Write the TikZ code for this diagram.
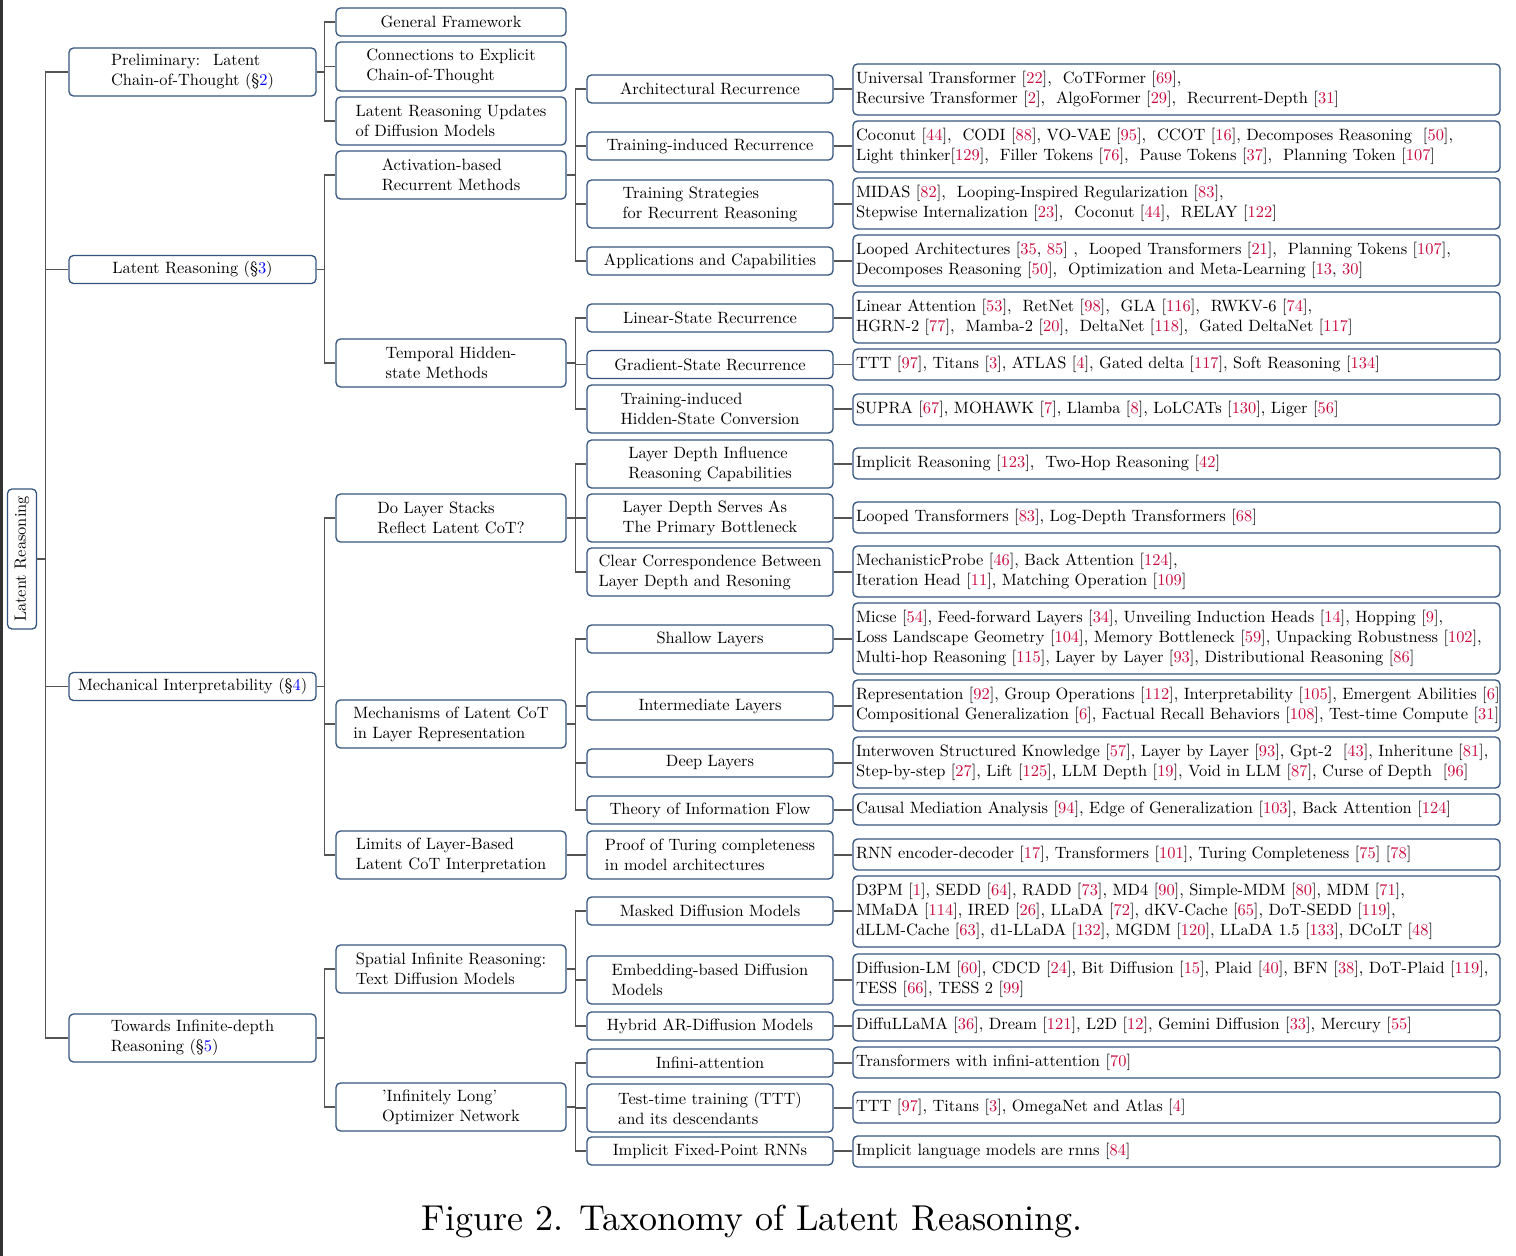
\documentclass[tikz,border=0pt]{standalone}
\usepackage{fontspec}
\setmainfont{lmroman10-regular.otf}
\definecolor{boxline}{HTML}{34557F}
\definecolor{wirecol}{HTML}{545454}
\definecolor{citered}{HTML}{C8093C}
\definecolor{secblue}{HTML}{0000FF}
\newcommand{\ct}[1]{[\textcolor{citered}{#1}]}
\newcommand{\sr}[1]{\S\textcolor{secblue}{#1}}
\begin{document}
\begin{tikzpicture}[x=1pt,y=-1pt,
  base/.style={draw=boxline, line width=1.3pt, rounded corners=4.5pt, fill=white,
    inner sep=0pt, align=left, font=\fontsize{16.4}{20}\selectfont},
  lone/.style={base, minimum width=247pt},
  ltwo/.style={base, minimum width=230pt},
  lthree/.style={base, minimum width=246pt},
  lfour/.style={base, text width=641pt, inner xsep=3pt},
  wire/.style={draw=wirecol, line width=1.2pt}]
\fill[white] (0,0) rectangle (1516,1256);
\useasboundingbox (0,0) rectangle (1516,1256);
\fill[black!80] (0,0) rectangle (2.5,1256);

% root
\node[base, rotate=90, minimum width=140pt, minimum height=29pt] (root) at (22,559) {Latent Reasoning};

% first level
\node[lone, minimum height=48pt] (pre) at (192.5,72) {Preliminary:~ Latent\\Chain-of-Thought (\sr{2})};
\node[lone, minimum height=28pt] (lat) at (192.5,269.5) {Latent Reasoning (\sr{3})};
\node[lone, minimum height=28pt] (mec) at (192.5,686.5) {Mechanical Interpretability (\sr{4})};
\node[lone, minimum height=48pt] (tow) at (192.5,1038) {Towards Infinite-depth\\Reasoning (\sr{5})};

% second level
\node[ltwo, minimum height=28pt] (gf) at (451,22) {General Framework};
\node[ltwo, minimum height=49pt] (cte) at (451,66.5) {Connections to Explicit\\Chain-of-Thought};
\node[ltwo, minimum height=48pt] (lru) at (451,121) {Latent Reasoning Updates\\of Diffusion Models};
\node[ltwo, minimum height=48pt] (abr) at (451,175) {Activation-based\\Recurrent Methods};
\node[ltwo, minimum height=48pt] (thm) at (451,363) {Temporal Hidden-\\state Methods};
\node[ltwo, minimum height=48pt] (dls) at (451,518) {Do Layer Stacks\\Reflect Latent CoT?};
\node[ltwo, minimum height=48pt] (mlc) at (451,724) {Mechanisms of Latent CoT\\in Layer Representation};
\node[ltwo, minimum height=48pt] (llb) at (451,855) {Limits of Layer-Based\\Latent CoT Interpretation};
\node[ltwo, minimum height=48pt] (sir) at (451,969) {Spatial Infinite Reasoning:\\Text Diffusion Models};
\node[ltwo, minimum height=48pt] (ilo) at (451,1107) {'Infinitely Long'\\Optimizer Network};

% third level
\node[lthree, minimum height=28pt] (arc) at (710,89) {Architectural Recurrence};
\node[lthree, minimum height=28pt] (tir) at (710,146) {Training-induced Recurrence};
\node[lthree, minimum height=48pt] (tsr) at (710,204) {Training Strategies\\for Recurrent Reasoning};
\node[lthree, minimum height=28pt] (apc) at (710,261) {Applications and Capabilities};
\node[lthree, minimum height=28pt] (lsr) at (710,318) {Linear-State Recurrence};
\node[lthree, minimum height=28pt] (gsr) at (710,364.5) {Gradient-State Recurrence};
\node[lthree, minimum height=48pt] (hsc) at (710,409) {Training-induced\\Hidden-State Conversion};
\node[lthree, minimum height=48pt] (ldi) at (710,464) {Layer Depth Influence\\Reasoning Capabilities};
\node[lthree, minimum height=48pt] (lds) at (710,518) {Layer Depth Serves As\\The Primary Bottleneck};
\node[lthree, minimum height=48pt] (ccb) at (710,572) {Clear Correspondence Between\\Layer Depth and Resoning};
\node[lthree, minimum height=28pt] (shl) at (710,639) {Shallow Layers};
\node[lthree, minimum height=28pt] (iml) at (710,706) {Intermediate Layers};
\node[lthree, minimum height=28pt] (dpl) at (710,763) {Deep Layers};
\node[lthree, minimum height=28pt] (tif) at (710,810) {Theory of Information Flow};
\node[lthree, minimum height=48pt] (ptc) at (710,855) {Proof of Turing completeness\\in model architectures};
\node[lthree, minimum height=28pt] (mdm) at (710,911) {Masked Diffusion Models};
\node[lthree, minimum height=48pt] (ebd) at (710,980) {Embedding-based Diffusion\\Models};
\node[lthree, minimum height=28pt] (had) at (710,1026) {Hybrid AR-Diffusion Models};
\node[lthree, minimum height=28pt] (ina) at (710,1063) {Infini-attention};
\node[lthree, minimum height=48pt] (ttt) at (710,1108) {Test-time training (TTT)\\and its descendants};
\node[lthree, minimum height=28pt] (ifp) at (710,1151) {Implicit Fixed-Point RNNs};

% fourth level: reference lists
\node[lfour, minimum height=51pt] (rarc) at (1176.5,89.5) {\mbox{Universal Transformer \ct{22},\ \ CoTFormer \ct{69},}\\\mbox{Recursive Transformer \ct{2},\ \ AlgoFormer \ct{29},\ \ Recurrent-Depth \ct{31}}};
\node[lfour, minimum height=51pt] (rtir) at (1176.5,146.5) {\mbox{Coconut \ct{44},\ \ CODI \ct{88}, VO-VAE \ct{95},\ \ CCOT \ct{16}, Decomposes Reasoning\ \ \ct{50},}\\\mbox{Light thinker\ct{129},\ \ Filler Tokens \ct{76},\ \ Pause Tokens \ct{37},\ \ Planning Token \ct{107}}};
\node[lfour, minimum height=51pt] (rtsr) at (1176.5,203.5) {\mbox{MIDAS \ct{82},\ \ Looping-Inspired Regularization \ct{83},}\\\mbox{Stepwise Internalization \ct{23},\ \ Coconut \ct{44},\ \ RELAY \ct{122}}};
\node[lfour, minimum height=51pt] (rapc) at (1176.5,260.5) {\mbox{Looped Architectures [\textcolor{citered}{35}, \textcolor{citered}{85}] ,\ \ Looped Transformers \ct{21},\ \ Planning Tokens \ct{107},}\\\mbox{Decomposes Reasoning \ct{50},\ \ Optimization and Meta-Learning [\textcolor{citered}{13}, \textcolor{citered}{30}]}};
\node[lfour, minimum height=51pt] (rlsr) at (1176.5,317.5) {\mbox{Linear Attention \ct{53},\ \ RetNet \ct{98},\ \ GLA \ct{116},\ \ RWKV-6 \ct{74},}\\\mbox{HGRN-2 \ct{77},\ \ Mamba-2 \ct{20},\ \ DeltaNet \ct{118},\ \ Gated DeltaNet \ct{117}}};
\node[lfour, minimum height=31pt] (rgsr) at (1176.5,364.5) {\mbox{TTT \ct{97}, Titans \ct{3}, ATLAS \ct{4}, Gated delta \ct{117}, Soft Reasoning \ct{134}}};
\node[lfour, minimum height=31pt] (rhsc) at (1176.5,409.5) {\mbox{SUPRA \ct{67}, MOHAWK \ct{7}, Llamba \ct{8}, LoLCATs \ct{130}, Liger \ct{56}}};
\node[lfour, minimum height=31pt] (rldi) at (1176.5,463.5) {\mbox{Implicit Reasoning \ct{123},\ \ Two-Hop Reasoning \ct{42}}};
\node[lfour, minimum height=31pt] (rlds) at (1176.5,517.5) {\mbox{Looped Transformers \ct{83}, Log-Depth Transformers \ct{68}}};
\node[lfour, minimum height=51pt] (rccb) at (1176.5,571.5) {\mbox{MechanisticProbe \ct{46}, Back Attention \ct{124},}\\\mbox{Iteration Head \ct{11}, Matching Operation \ct{109}}};
\node[lfour, minimum height=71pt] (rshl) at (1176.5,638.5) {\mbox{Micse \ct{54}, Feed-forward Layers \ct{34}, Unveiling Induction Heads \ct{14}, Hopping \ct{9},}\\\mbox{Loss Landscape Geometry \ct{104}, Memory Bottleneck \ct{59}, Unpacking Robustness \ct{102},}\\\mbox{Multi-hop Reasoning \ct{115}, Layer by Layer \ct{93}, Distributional Reasoning \ct{86}}};
\node[lfour, minimum height=51pt] (riml) at (1176.5,705.5) {\mbox{Representation \ct{92}, Group Operations \ct{112}, Interpretability \ct{105}, Emergent Abilities \ct{6}}\\\mbox{Compositional Generalization \ct{6}, Factual Recall Behaviors \ct{108}, Test-time Compute \ct{31}}};
\node[lfour, minimum height=51pt] (rdpl) at (1176.5,762.5) {\mbox{Interwoven Structured Knowledge \ct{57}, Layer by Layer \ct{93}, Gpt-2\ \ \ct{43}, Inheritune \ct{81},}\\\mbox{Step-by-step \ct{27}, Lift \ct{125}, LLM Depth \ct{19}, Void in LLM \ct{87}, Curse of Depth\ \ \ct{96}}};
\node[lfour, minimum height=31pt] (rtif) at (1176.5,809.5) {\mbox{Causal Mediation Analysis \ct{94}, Edge of Generalization \ct{103}, Back Attention \ct{124}}};
\node[lfour, minimum height=31pt] (rptc) at (1176.5,854.5) {\mbox{RNN encoder-decoder \ct{17}, Transformers \ct{101}, Turing Completeness \ct{75} \ct{78}}};
\node[lfour, minimum height=71pt] (rmdm) at (1176.5,911.5) {\mbox{D3PM \ct{1}, SEDD \ct{64}, RADD \ct{73}, MD4 \ct{90}, Simple-MDM \ct{80}, MDM \ct{71},}\\\mbox{MMaDA \ct{114}, IRED \ct{26}, LLaDA \ct{72}, dKV-Cache \ct{65}, DoT-SEDD \ct{119},}\\\mbox{dLLM-Cache \ct{63}, d1-LLaDA \ct{132}, MGDM \ct{120}, LLaDA 1.5 \ct{133}, DCoLT \ct{48}}};
\node[lfour, minimum height=51pt] (rebd) at (1176.5,979.5) {\mbox{Diffusion-LM \ct{60}, CDCD \ct{24}, Bit Diffusion \ct{15}, Plaid \ct{40}, BFN \ct{38}, DoT-Plaid \ct{119},}\\\mbox{TESS \ct{66}, TESS 2 \ct{99}}};
\node[lfour, minimum height=31pt] (rhad) at (1176.5,1025.5) {\mbox{DiffuLLaMA \ct{36}, Dream \ct{121}, L2D \ct{12}, Gemini Diffusion \ct{33}, Mercury \ct{55}}};
\node[lfour, minimum height=31pt] (rina) at (1176.5,1062.5) {\mbox{Transformers with infini-attention \ct{70}}};
\node[lfour, minimum height=31pt] (rttt) at (1176.5,1107.5) {\mbox{TTT \ct{97}, Titans \ct{3}, OmegaNet and Atlas \ct{4}}};
\node[lfour, minimum height=31pt] (rifp) at (1176.5,1151.5) {\mbox{Implicit language models are rnns \ct{84}}};

% tree connectors
\foreach \c in {pre,lat,mec,tow}
  \draw[wire] (root.south) -- ++(8,0) |- (\c.west);
\foreach \p/\c in {pre/gf,pre/cte,pre/lru,lat/abr,lat/thm,mec/dls,mec/mlc,mec/llb,tow/sir,tow/ilo}
  \draw[wire] (\p.east) -- ++(8,0) |- (\c.west);
\foreach \p/\c in {abr/arc,abr/tir,abr/tsr,abr/apc,thm/lsr,thm/gsr,thm/hsc,
                   dls/ldi,dls/lds,dls/ccb,mlc/shl,mlc/iml,mlc/dpl,mlc/tif,llb/ptc,
                   sir/mdm,sir/ebd,sir/had,ilo/ina,ilo/ttt,ilo/ifp}
  \draw[wire] (\p.east) -- ++(9,0) |- (\c.west);
\foreach \c in {arc,tir,tsr,apc,lsr,gsr,hsc,ldi,lds,ccb,shl,iml,dpl,tif,ptc,mdm,ebd,had,ina,ttt,ifp}
  \draw[wire] (\c.east) -- (\c.east -| r\c.west);

% caption
\node[font=\fontsize{36}{42}\selectfont] (cap) at (752,1222) {Figure 2. Taxonomy of Latent Reasoning.};
\end{tikzpicture}
\end{document}
